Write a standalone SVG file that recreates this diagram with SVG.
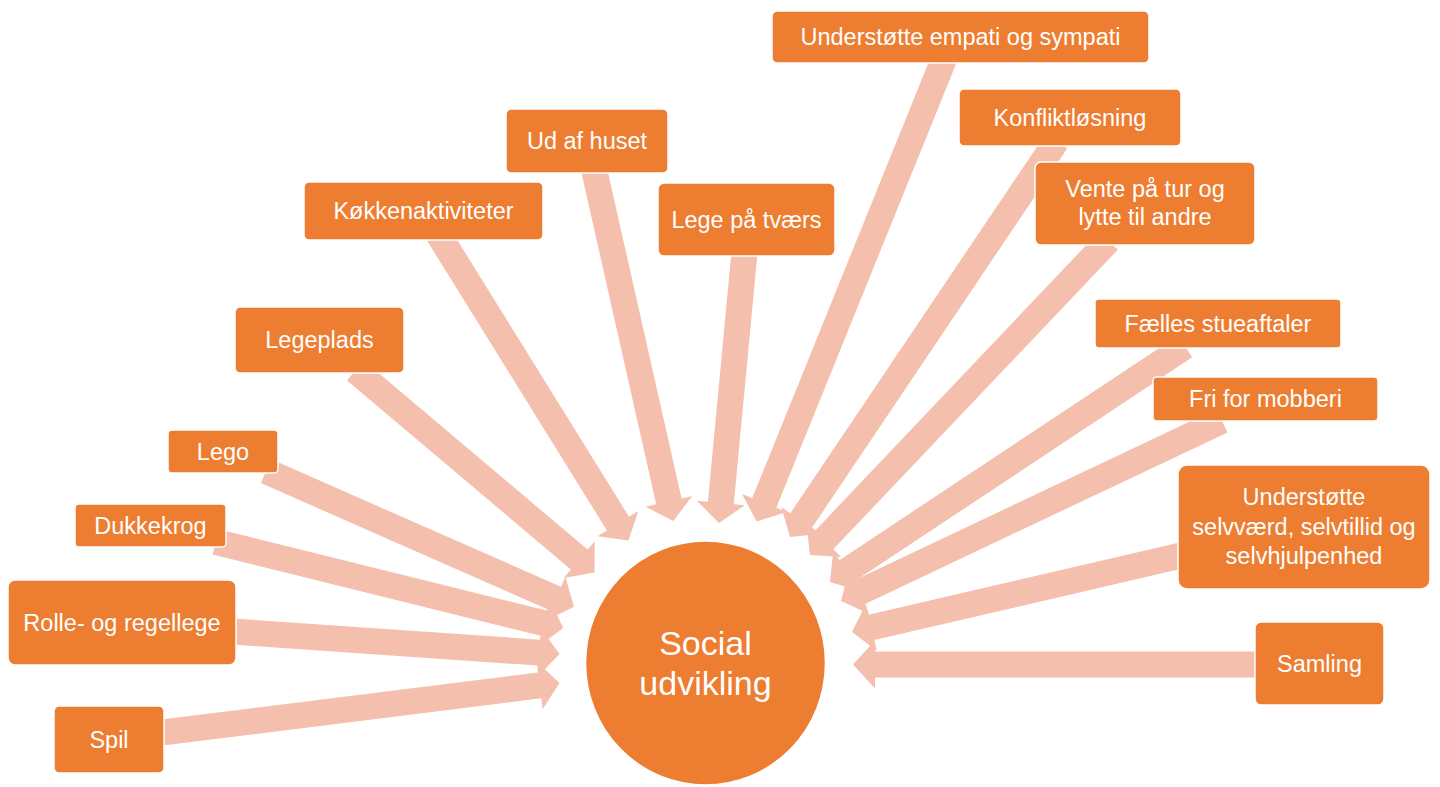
<svg xmlns="http://www.w3.org/2000/svg" width="1440" height="787" viewBox="0 0 1440 787">
<style>
.box{fill:#ED7D31;stroke:#FFFFFF;stroke-width:1.5}
.arr{fill:#F4BFAD}
.t{font-family:"Liberation Sans",Arial,sans-serif;font-size:23.5px;fill:#FFFFFF;text-anchor:middle}
.c{font-family:"Liberation Sans",Arial,sans-serif;font-size:34px;fill:#FFFFFF;text-anchor:middle}
</style>
<rect width="1440" height="787" fill="#FFFFFF"/>
<g id="connectors">
<polygon class="arr" transform="translate(157.1,733.2) rotate(-7.12)" points="0,-13 385.5,-13 385.5,-24 405.5,0 385.5,24 385.5,13 0,13"/>
<polygon class="arr" transform="translate(229,631.3) rotate(3.93)" points="0,-13 311.3,-13 311.3,-24 331.3,0 311.3,24 311.3,13 0,13"/>
<polygon class="arr" transform="translate(215.7,541.9) rotate(13.91)" points="0,-13 338.1,-13 338.1,-24 358.1,0 338.1,24 338.1,13 0,13"/>
<polygon class="arr" transform="translate(266.1,471.2) rotate(23.76)" points="0,-13 316.4,-13 316.4,-24 336.4,0 316.4,24 316.4,13 0,13"/>
<polygon class="arr" transform="translate(355.4,370.5) rotate(40.18)" points="0,-13 293,-13 293,-24 313,0 293,24 293,13 0,13"/>
<polygon class="arr" transform="translate(438.5,234.5) rotate(58.17)" points="0,-13 340.2,-13 340.2,-24 360.2,0 340.2,24 340.2,13 0,13"/>
<polygon class="arr" transform="translate(593.5,167.2) rotate(77.29)" points="0,-13 342.6,-13 342.6,-24 362.6,0 342.6,24 342.6,13 0,13"/>
<polygon class="arr" transform="translate(744.9,248) rotate(95.39)" points="0,-13 256.2,-13 256.2,-24 276.2,0 256.2,24 256.2,13 0,13"/>
<polygon class="arr" transform="translate(944.6,57.7) rotate(112.05)" points="0,-13 480.4,-13 480.4,-24 500.4,0 480.4,24 480.4,13 0,13"/>
<polygon class="arr" transform="translate(1056.4,141.2) rotate(123.94)" points="0,-13 457.1,-13 457.1,-24 477.1,0 457.1,24 457.1,13 0,13"/>
<polygon class="arr" transform="translate(1108.4,240.7) rotate(133.52)" points="0,-13 413.3,-13 413.3,-24 433.3,0 413.3,24 413.3,13 0,13"/>
<polygon class="arr" transform="translate(1185,346.5) rotate(146.44)" points="0,-13 406.1,-13 406.1,-24 426.1,0 406.1,24 406.1,13 0,13"/>
<polygon class="arr" transform="translate(1222,420.7) rotate(154.68)" points="0,-13 401.5,-13 401.5,-24 421.5,0 401.5,24 401.5,13 0,13"/>
<polygon class="arr" transform="translate(1184.7,554.7) rotate(166.93)" points="0,-13 321.6,-13 321.6,-24 341.6,0 321.6,24 321.6,13 0,13"/>
<polygon class="arr" transform="translate(1262,664.5) rotate(180)" points="0,-13 387,-13 387,-24 409,0 387,24 387,13 0,13"/>
</g>
<g id="center">
<ellipse cx="705.5" cy="663" rx="120" ry="122" fill="#ED7D31" stroke="#FFFFFF" stroke-width="1.5"/>
<text class="c" x="705.5" y="655">Social</text>
<text class="c" x="705.5" y="695">udvikling</text>
</g>
<g id="n-empati"><rect class="box" x="772" y="11" width="377" height="52" rx="5"/><text class="t" x="960.5" y="45">Understøtte empati og sympati</text></g>
<g id="n-konflikt"><rect class="box" x="959" y="89" width="222" height="57" rx="5"/><text class="t" x="1070" y="125.5">Konfliktløsning</text></g>
<g id="n-vente"><rect class="box" x="1035" y="162" width="220" height="83" rx="6"/><text class="t" x="1145" y="196.5">Vente på tur og</text><text class="t" x="1145" y="225">lytte til andre</text></g>
<g id="n-faelles"><rect class="box" x="1095" y="299" width="246" height="49" rx="4"/><text class="t" x="1218" y="331.5">Fælles stueaftaler</text></g>
<g id="n-fri"><rect class="box" x="1153" y="377" width="225" height="44" rx="4"/><text class="t" x="1265.5" y="407">Fri for mobberi</text></g>
<g id="n-selv"><rect class="box" x="1178" y="465" width="252" height="124" rx="9"/><text class="t" x="1304" y="505">Understøtte</text><text class="t" x="1304" y="535">selvværd, selvtillid og</text><text class="t" x="1304" y="564">selvhjulpenhed</text></g>
<g id="n-samling"><rect class="box" x="1255" y="622" width="129" height="83" rx="6"/><text class="t" x="1319.5" y="671.5">Samling</text></g>
<g id="n-tvaers"><rect class="box" x="658" y="183" width="177" height="73" rx="6"/><text class="t" x="746.5" y="227.5">Lege på tværs</text></g>
<g id="n-ud"><rect class="box" x="506" y="109" width="162" height="64" rx="5"/><text class="t" x="587" y="149">Ud af huset</text></g>
<g id="n-koekken"><rect class="box" x="304" y="182" width="239" height="58" rx="5"/><text class="t" x="423.5" y="219">Køkkenaktiviteter</text></g>
<g id="n-legeplads"><rect class="box" x="235" y="307" width="169" height="66" rx="5"/><text class="t" x="319.5" y="348">Legeplads</text></g>
<g id="n-lego"><rect class="box" x="168" y="430" width="110" height="43" rx="4"/><text class="t" x="223" y="459.5">Lego</text></g>
<g id="n-dukke"><rect class="box" x="75" y="504" width="151" height="43" rx="4"/><text class="t" x="150.5" y="533.5">Dukkekrog</text></g>
<g id="n-rolle"><rect class="box" x="8" y="580" width="228" height="85" rx="7"/><text class="t" x="122" y="630.5">Rolle- og regellege</text></g>
<g id="n-spil"><rect class="box" x="54" y="706" width="110" height="67" rx="5"/><text class="t" x="109" y="747.5">Spil</text></g>
</svg>
